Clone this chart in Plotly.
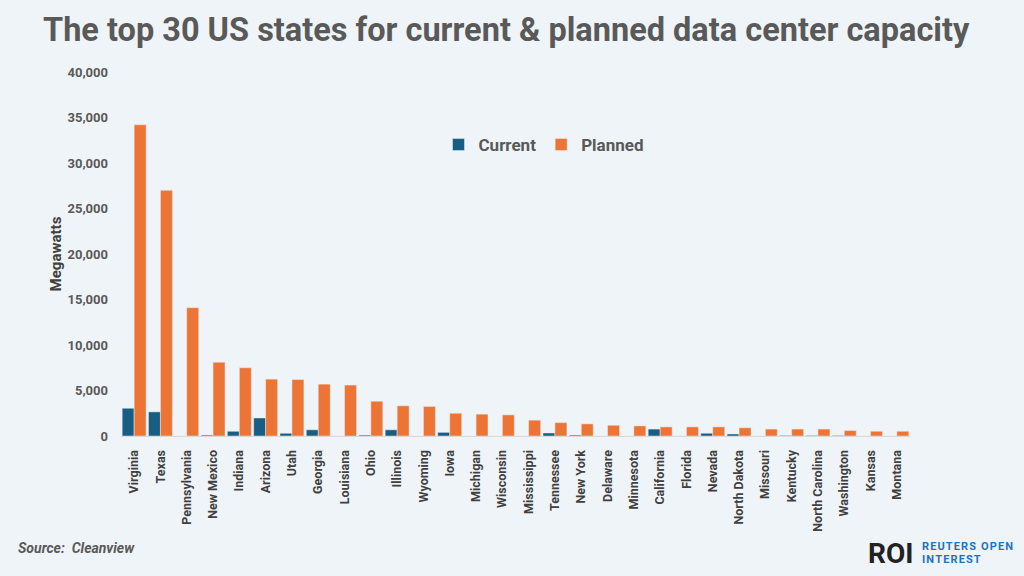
import plotly.graph_objects as go

states = ["Virginia", "Texas", "Pennsylvania", "New Mexico", "Indiana", "Arizona", "Utah",
          "Georgia", "Louisiana", "Ohio", "Illinois", "Wyoming", "Iowa", "Michigan", "Wisconsin",
          "Mississippi", "Tennessee", "New York", "Delaware", "Minnesota", "California", "Florida",
          "Nevada", "North Dakota", "Missouri", "Kentucky", "North Carolina", "Washington",
          "Kansas", "Montana"]
current = [3050, 2650, 0, 100, 520, 1980, 300, 680, 0, 100, 680, 0, 400, 0, 0,
           0, 330, 100, 0, 0, 760, 0, 300, 220, 0, 60, 60, 60, 0, 0]
planned = [34200, 27000, 14100, 8100, 7500, 6250, 6200, 5700, 5600, 3820, 3320, 3250, 2500,
           2400, 2320, 1740, 1470, 1330, 1180, 1110, 1000, 1000, 1000, 900, 760, 760, 760,
           600, 520, 520]
y_ticks = [0, 5000, 10000, 15000, 20000, 25000, 30000, 35000, 40000]

BG = "#EFF4F8"
GRAY = "#595959"

L, R, T, B = 121, 114, 72, 140
W, H = 1024, 576
pw = W - L - R
ph = H - T - B

def px(x):
    return (x - L) / pw

def py(y):
    return (H - B - y) / ph

def spaced(s):
    return "\u200a".join(s)

fig = go.Figure()
fig.add_trace(go.Bar(name="Current", x=states, y=current, marker_color="#175E82"))
fig.add_trace(go.Bar(name="Planned", x=states, y=planned, marker_color="#EC7434"))

fig.update_layout(
    width=W, height=H,
    margin=dict(l=L, r=R, t=T, b=B),
    paper_bgcolor=BG, plot_bgcolor=BG,
    barmode="group", bargap=0.09, bargroupgap=0,
    font=dict(family="Roboto", color=GRAY),
    showlegend=True,
    legend=dict(orientation="h", x=px(544), y=py(145), xanchor="center", yanchor="middle",
                font=dict(size=17, color=GRAY, weight="bold"), bgcolor="rgba(0,0,0,0)",
                itemwidth=30, traceorder="normal"),
    xaxis=dict(tickangle=-90, tickfont=dict(size=12.5, color="#404040", weight="bold"),
               showline=True, linecolor="#D9D9D9", linewidth=1, ticks="", showgrid=False,
               ticklabelstandoff=8),
    yaxis=dict(range=[0, 40000], tickvals=y_ticks, tickformat=",", showgrid=False,
               zeroline=False, showline=False, ticks="", ticklabelstandoff=12,
               tickfont=dict(size=13, color=GRAY, weight="bold"),
               title=dict(text="Megawatts", font=dict(size=15, color="#404040", weight="bold"),
                          standoff=2)),
    annotations=[
        dict(text="The top 30 US states for current & planned data center capacity",
             xref="paper", yref="paper", x=px(506), y=py(30), xanchor="center", yanchor="middle",
             showarrow=False, font=dict(size=32.5, color=GRAY, weight="bold")),
        dict(text="<b><i>Source:  Cleanview</i></b>", xref="paper", yref="paper",
             x=px(16), y=py(548), xanchor="left", yanchor="middle", showarrow=False,
             font=dict(size=14, color=GRAY)),
        dict(text="<b>ROI</b>", xref="paper", yref="paper",
             x=px(866), y=py(553), xanchor="left", yanchor="middle", showarrow=False,
             font=dict(size=28, color="#222222")),
        dict(text=spaced("REUTERS OPEN"), xref="paper", yref="paper", align="left",
             x=px(920), y=py(546), xanchor="left", yanchor="middle", showarrow=False,
             font=dict(size=11, color="#1E73BE", weight="bold")),
        dict(text=spaced("INTEREST"), xref="paper", yref="paper", align="left",
             x=px(920), y=py(559), xanchor="left", yanchor="middle", showarrow=False,
             font=dict(size=11, color="#1E73BE", weight="bold")),
    ],
)

fig.write_html("out.html", config={"displayModeBar": False},
               post_script="document.body.style.margin='0';document.body.style.background='%s';" % BG)
